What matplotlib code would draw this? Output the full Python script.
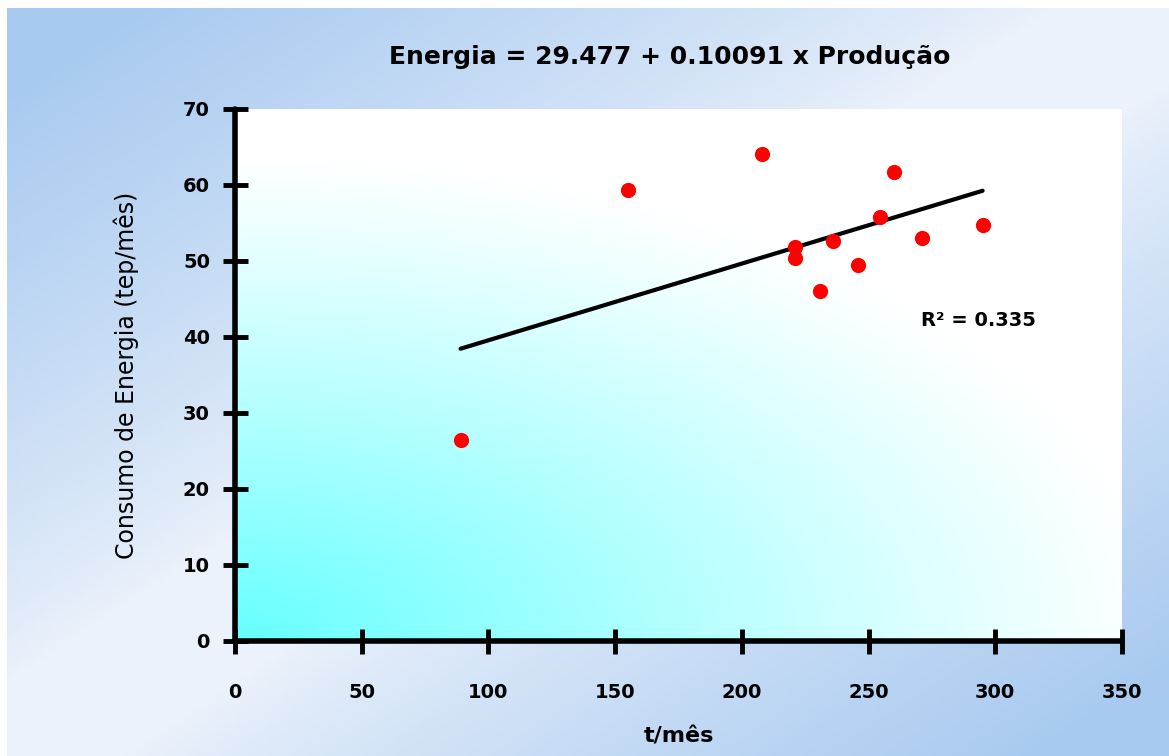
import numpy as np
import matplotlib
matplotlib.use("Agg")
import matplotlib.pyplot as plt

# dados
producao = [89, 155, 208, 260, 254.5, 221, 221, 236, 231, 246, 271, 295]
energia = [26.5, 59.3, 64.1, 61.7, 55.8, 51.8, 50.4, 52.6, 46.1, 49.5, 53.0, 54.7]
a, b = 29.477, 0.10091
r2 = 0.335
xticks = [0, 50, 100, 150, 200, 250, 300, 350]
yticks = [0, 10, 20, 30, 40, 50, 60, 70]

plt.rcParams['font.family'] = 'DejaVu Sans'

fig = plt.figure(figsize=(11.69, 7.56), dpi=100)
fig.patch.set_facecolor('white')

# fundo degradê azul da figura
bg = fig.add_axes([7 / 1169, 0, 1 - 7 / 1169, 1 - 8 / 756], zorder=-10)
u, v = np.meshgrid(np.linspace(0, 1, 300), np.linspace(1, 0, 200))
t = np.clip((np.abs(u - v) - 0.1) * 1.25, 0, 1) ** 0.8
light = np.array([236, 242, 251]) / 255
blue = np.array([168, 202, 240]) / 255
img = light[None, None, :] * (1 - t[..., None]) + blue[None, None, :] * t[..., None]
bg.imshow(img, aspect='auto', extent=[0, 1, 0, 1])
bg.axis('off')

ax = fig.add_axes([235 / 1169, 1 - 641 / 756, (1122 - 235) / 1169, (641 - 109) / 756])

# degradê ciano da área do gráfico
uu, vv = np.meshgrid(np.linspace(0, 1, 300), np.linspace(1, 0, 200))
r = np.sqrt((uu * 1.0) ** 2 + (vv * 1.15) ** 2)
k = np.clip(1 - r / 1.05, 0, 1) ** 1.1
cyan = np.array([102, 255, 255]) / 255
white = np.array([255, 255, 255]) / 255
img2 = white[None, None, :] * (1 - k[..., None]) + cyan[None, None, :] * k[..., None]
ax.imshow(img2, aspect='auto', extent=[0, 350, 0, 70], zorder=0)

ax.scatter(producao, energia, s=120, color='#ff0000', zorder=3, linewidths=0)
xl = np.array([min(producao), max(producao)])
ax.plot(xl, a + b * xl, color='black', lw=3, solid_capstyle='round', zorder=2)

ax.text(270.7, 42.2, 'R² = ' + str(r2), fontsize=14, fontweight='bold',
        va='center', ha='left')

ax.set_xlim(0, 350)
ax.set_ylim(0, 70)
ax.set_xticks(xticks)
ax.set_yticks(yticks)
ax.spines['top'].set_visible(False)
ax.spines['right'].set_visible(False)
for s in ['left', 'bottom']:
    ax.spines[s].set_linewidth(4)
    ax.spines[s].set_capstyle('round')
ax.tick_params(axis='both', direction='inout', length=18, width=3.5, labelsize=14)
ax.tick_params(axis='x', pad=21)
ax.tick_params(axis='y', pad=9)
for lbl in ax.get_xticklabels() + ax.get_yticklabels():
    lbl.set_fontweight('bold')
for ln in ax.xaxis.get_ticklines() + ax.yaxis.get_ticklines():
    ln.set_solid_capstyle('round')

ax.set_xlabel('t/mês', fontsize=16, fontweight='bold', labelpad=18)
ax.set_ylabel('Consumo de Energia (tep/mês)', fontsize=17, labelpad=32)

fig.text(670 / 1169, 1 - 57 / 756, 'Energia = 29.477 + 0.10091 x Produção',
         fontsize=18, fontweight='bold', ha='center', va='center')

fig.savefig('out.png', dpi=100)
